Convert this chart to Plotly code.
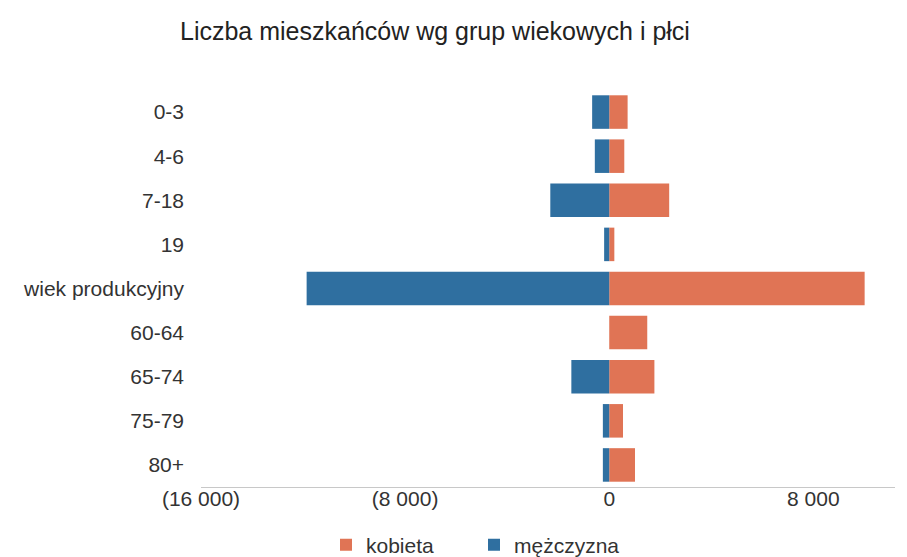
import plotly.graph_objects as go

categories = ["0-3", "4-6", "7-18", "19", "wiek produkcyjny", "60-64", "65-74", "75-79", "80+"]
kobieta = [720, 590, 2350, 200, 10010, 1490, 1770, 540, 1010]
mezczyzna = [670, 565, 2310, 200, 11860, 0, 1485, 250, 250]
tick_vals = [-16000, -8000, 0, 8000]
tick_text = ["(16 000)", "(8 000)", "0", "8 000"]

FONT = "Liberation Sans, Arial, sans-serif"
W, H = 899, 549  # page body has an 8px margin

fig = go.Figure()
fig.add_trace(go.Bar(
    y=categories, x=kobieta, orientation="h", name="kobieta",
    marker=dict(color="#e07455", line=dict(width=0)),
))
fig.add_trace(go.Bar(
    y=categories, x=[-v for v in mezczyzna], orientation="h", name="mężczyzna",
    marker=dict(color="#2f6fa0", line=dict(width=0)),
))

fig.update_layout(
    width=W, height=H,
    barmode="relative", bargap=0.24,
    paper_bgcolor="white", plot_bgcolor="white",
    font=dict(family=FONT, size=21, color="#333333"),
    title=dict(text="Liczba mieszkańców wg grup wiekowych i płci",
               xref="container", x=172 / W, xanchor="left",
               yref="container", y=1 - 23 / H, yanchor="middle",
               font=dict(family=FONT, size=25, color="#222222")),
    margin=dict(l=193, r=12, t=82, b=70, autoexpand=False),
    legend=dict(orientation="h", xref="container", x=318 / W, xanchor="left",
                yref="container", y=(H - 537) / H, yanchor="middle",
                font=dict(size=21), entrywidth=103, entrywidthmode="pixels",
                traceorder="normal"),
    showlegend=True,
)
fig.update_xaxes(range=[-16000, 11200], tickvals=tick_vals, ticktext=tick_text,
                 showgrid=False, zeroline=False, showline=True,
                 linecolor="#c8c8c8", linewidth=1, ticks="",
                 ticklabelstandoff=-7, automargin=False,
                 tickfont=dict(size=21))
fig.update_yaxes(categoryorder="array", categoryarray=categories, autorange="reversed",
                 showgrid=False, zeroline=False, showline=False, ticks="",
                 ticklabelstandoff=16, automargin=False, tickfont=dict(size=21))

fig.write_html("out.html")
